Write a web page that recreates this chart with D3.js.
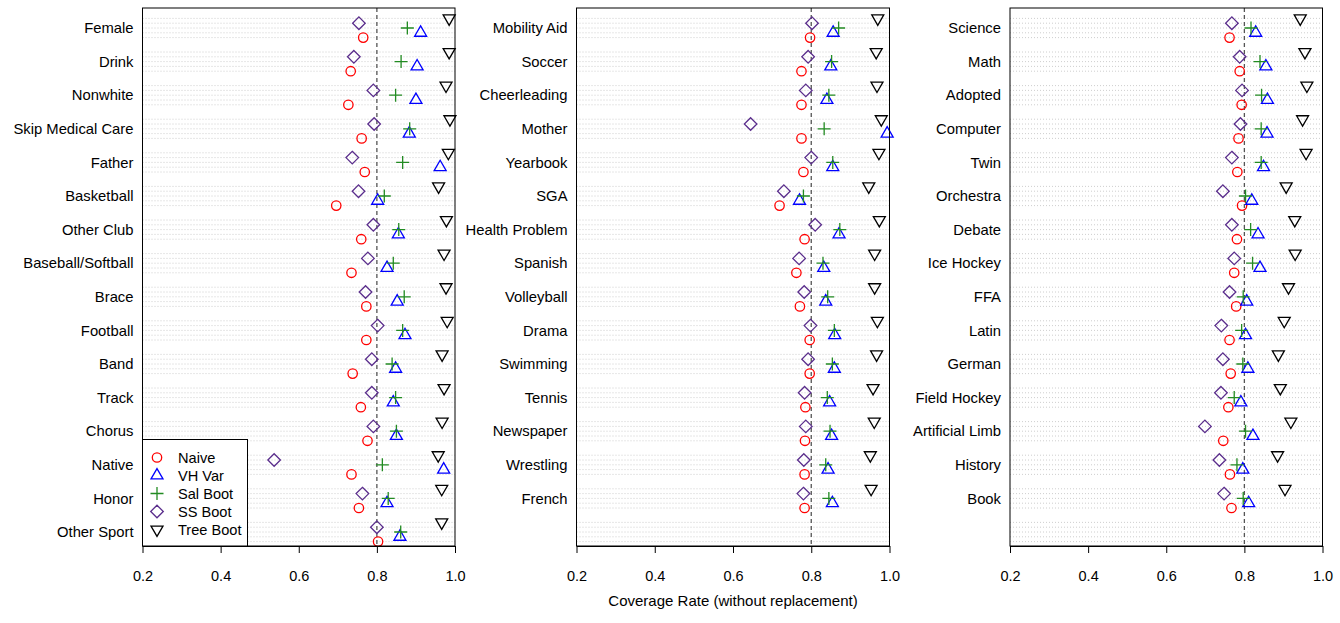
<!DOCTYPE html>
<html>
<head>
<meta charset="utf-8">
<script src="https://cdn.jsdelivr.net/npm/d3@7/dist/d3.min.js"></script>
<style>
  body { margin: 0; background: #fff; }
  svg { display: block; font-family: "Liberation Sans", Arial, sans-serif; }
</style>
</head>
<body>
<svg id="chart" width="1340" height="623"></svg>
<script>
// Coverage rates of five interval methods, per covariate, in three columns.
const methods = ["Naive", "VH Var", "Sal Boot", "SS Boot", "Tree Boot"];
const methodColors = ["#ff0000", "#0000ff", "#228b22", "#5a2d8c", "#000000"];
const xTicks = [0.2, 0.4, 0.6, 0.8, 1.0];
const nominalRate = 0.8;
const axisTitle = "Coverage Rate (without replacement)";

// Column 1
const catsA = ["Female", "Drink", "Nonwhite", "Skip Medical Care", "Father", "Basketball",
  "Other Club", "Baseball/Softball", "Brace", "Football", "Band", "Track", "Chorus",
  "Native", "Honor", "Other Sport"];
const naiveA = [0.765, 0.733, 0.727, 0.761, 0.769, 0.696, 0.760, 0.735, 0.773, 0.773, 0.738, 0.759, 0.776, 0.735, 0.754, 0.803];
const vhA    = [0.912, 0.903, 0.900, 0.883, 0.962, 0.802, 0.855, 0.826, 0.852, 0.872, 0.848, 0.842, 0.850, 0.971, 0.826, 0.859];
const salA   = [0.878, 0.862, 0.848, 0.884, 0.866, 0.819, 0.856, 0.842, 0.870, 0.866, 0.839, 0.848, 0.850, 0.814, 0.829, 0.861];
const ssA    = [0.754, 0.741, 0.791, 0.793, 0.737, 0.753, 0.791, 0.777, 0.771, 0.802, 0.787, 0.787, 0.791, 0.537, 0.763, 0.800];
const treeA  = [0.985, 0.985, 0.977, 0.987, 0.983, 0.958, 0.978, 0.972, 0.977, 0.980, 0.967, 0.972, 0.967, 0.957, 0.966, 0.966];

// Column 2
const catsB = ["Mobility Aid", "Soccer", "Cheerleading", "Mother", "Yearbook", "SGA",
  "Health Problem", "Spanish", "Volleyball", "Drama", "Swimming", "Tennis", "Newspaper",
  "Wrestling", "French"];
const naiveB = [0.797, 0.775, 0.775, 0.775, 0.780, 0.719, 0.783, 0.762, 0.771, 0.796, 0.796, 0.785, 0.784, 0.783, 0.783];
const vhB    = [0.856, 0.850, 0.840, 0.994, 0.855, 0.770, 0.871, 0.832, 0.837, 0.860, 0.859, 0.847, 0.852, 0.843, 0.854];
const salB   = [0.870, 0.852, 0.845, 0.833, 0.855, 0.780, 0.873, 0.830, 0.842, 0.859, 0.854, 0.841, 0.848, 0.837, 0.845];
const ssB    = [0.802, 0.792, 0.786, 0.645, 0.800, 0.730, 0.810, 0.769, 0.782, 0.798, 0.792, 0.783, 0.786, 0.781, 0.780];
const treeB  = [0.970, 0.966, 0.968, 0.979, 0.973, 0.947, 0.974, 0.962, 0.962, 0.969, 0.967, 0.958, 0.961, 0.951, 0.953];

// Column 3
const catsC = ["Science", "Math", "Adopted", "Computer", "Twin", "Orchestra", "Debate",
  "Ice Hockey", "FFA", "Latin", "German", "Field Hockey", "Artificial Limb", "History", "Book"];
const naiveC = [0.762, 0.788, 0.793, 0.785, 0.782, 0.794, 0.781, 0.774, 0.779, 0.762, 0.765, 0.759, 0.746, 0.763, 0.767];
const vhC    = [0.829, 0.855, 0.859, 0.858, 0.849, 0.819, 0.835, 0.840, 0.806, 0.803, 0.809, 0.791, 0.822, 0.796, 0.811];
const salC   = [0.817, 0.840, 0.844, 0.843, 0.843, 0.803, 0.816, 0.821, 0.797, 0.793, 0.796, 0.774, 0.803, 0.781, 0.797];
const ssC    = [0.768, 0.788, 0.794, 0.790, 0.768, 0.745, 0.768, 0.774, 0.762, 0.741, 0.745, 0.740, 0.699, 0.736, 0.748];
const treeC  = [0.943, 0.955, 0.960, 0.949, 0.958, 0.907, 0.929, 0.930, 0.913, 0.902, 0.887, 0.892, 0.919, 0.885, 0.904];

const panels = [
  { cats: catsA, series: [naiveA, vhA, salA, ssA, treeA], left: 142.5, right: 455 },
  { cats: catsB, series: [naiveB, vhB, salB, ssB, treeB], left: 576.5, right: 889.5 },
  { cats: catsC, series: [naiveC, vhC, salC, ssC, treeC], left: 1010, right: 1322.5 }
];

const nRows = 16;
const boxTop = 8, boxBottom = 546;

const svg = d3.select("#chart");

// Each row holds five stacked slots, Tree Boot on top down to Naive at the bottom
const rowScale = d3.scaleBand().domain(d3.range(nRows)).range([11.2, 548.8]).padding(0);
const slotScale = d3.scalePoint()
  .domain(["Tree Boot", "SS Boot", "Sal Boot", "VH Var", "Naive"])
  .range([-9.6, 9.6]);
const rowCenter = i => rowScale(i) + rowScale.bandwidth() / 2;
const slotY = (i, m) => rowCenter(i) + slotScale(m);

// Marker shapes in the style of R's plotting characters
function markerPath(m) {
  switch (m) {
    case "VH Var": { const s = 12, h = s * Math.sqrt(3) / 2;
      return `M0,${-2 * h / 3}L${s / 2},${h / 3}L${-s / 2},${h / 3}Z`; }
    case "Tree Boot": { const s = 12, h = s * Math.sqrt(3) / 2;
      return `M0,${2 * h / 3}L${s / 2},${-h / 3}L${-s / 2},${-h / 3}Z`; }
    case "SS Boot": { const r = 6.3; return `M0,${-r}L${r},0L0,${r}L${-r},0Z`; }
    case "Sal Boot": { const r = 6.5; return `M${-r},0H${r}M0,${-r}V${r}`; }
  }
  return null;
}

function drawMarker(g, m, color) {
  if (m === "Naive") {
    g.append("circle").attr("r", 4.7).attr("fill", "none")
      .attr("stroke", color).attr("stroke-width", 1.3);
  } else {
    g.append("path").attr("d", markerPath(m)).attr("fill", "none")
      .attr("stroke", color).attr("stroke-width", 1.3);
  }
}

panels.forEach((p, pi) => {
  const x = d3.scaleLinear().domain([0.2, 1.0]).range([p.left, p.right]);
  const g = svg.append("g");

  // dotted guide lines for every slot
  const grid = g.append("g");
  d3.range(nRows).forEach(i => {
    slotScale.domain().forEach(m => {
      grid.append("line")
        .attr("x1", p.left).attr("x2", p.right)
        .attr("y1", slotY(i, m)).attr("y2", slotY(i, m))
        .attr("stroke", "#c8c8c8").attr("stroke-width", 0.9)
        .attr("stroke-dasharray", "1,2");
    });
  });

  // reference line at the nominal rate
  g.append("line")
    .attr("x1", x(nominalRate)).attr("x2", x(nominalRate))
    .attr("y1", boxTop).attr("y2", boxBottom)
    .attr("stroke", "#555").attr("stroke-width", 1.3)
    .attr("stroke-dasharray", "4,3");

  // category labels
  g.append("g").selectAll("text").data(p.cats).join("text")
    .attr("x", p.left - 9)
    .attr("y", (d, i) => rowCenter(i))
    .attr("dy", "0.35em")
    .attr("text-anchor", "end")
    .attr("font-size", "14.8px")
    .attr("fill", "#000")
    .text(d => d);

  // markers
  methods.forEach((m, mi) => {
    const vals = p.series[mi];
    const mg = g.append("g");
    vals.forEach((v, i) => {
      const one = mg.append("g").attr("transform", `translate(${x(v)},${slotY(i, m)})`);
      drawMarker(one, m, methodColors[mi]);
    });
  });

  // frame
  g.append("rect")
    .attr("x", p.left).attr("y", boxTop)
    .attr("width", p.right - p.left).attr("height", boxBottom - boxTop)
    .attr("fill", "none").attr("stroke", "#000").attr("stroke-width", 1);

  // bottom axis
  const axis = d3.axisBottom(x).tickValues(xTicks).tickFormat(d3.format(".1f"))
    .tickSizeInner(7).tickSizeOuter(0).tickPadding(18);
  const ag = g.append("g").attr("transform", `translate(0,${boxBottom})`).call(axis);
  ag.selectAll("text").attr("font-size", "14.5px").attr("fill", "#000")
    .attr("font-family", "'Liberation Sans', Arial, sans-serif");
  ag.selectAll("line,path").attr("stroke", "#000");

  // legend inside the first column
  if (pi === 0) {
    const lg = svg.append("g");
    lg.append("rect")
      .attr("x", p.left).attr("y", 439.5)
      .attr("width", 105).attr("height", boxBottom - 439.5)
      .attr("fill", "#fff").attr("stroke", "#000").attr("stroke-width", 1);
    const ly = d3.scalePoint().domain(methods).range([457.5, 529.5]);
    methods.forEach((m, mi) => {
      const item = lg.append("g").attr("transform", `translate(${p.left + 14.5},${ly(m)})`);
      drawMarker(item, m, methodColors[mi]);
      lg.append("text")
        .attr("x", p.left + 35.5).attr("y", ly(m))
        .attr("dy", "0.35em")
        .attr("font-size", "14.6px").attr("fill", "#000")
        .text(m);
    });
  }
});

svg.append("text")
  .attr("x", 733).attr("y", 606)
  .attr("text-anchor", "middle")
  .attr("font-size", "15px").attr("fill", "#000")
  .text(axisTitle);
</script>
</body>
</html>
